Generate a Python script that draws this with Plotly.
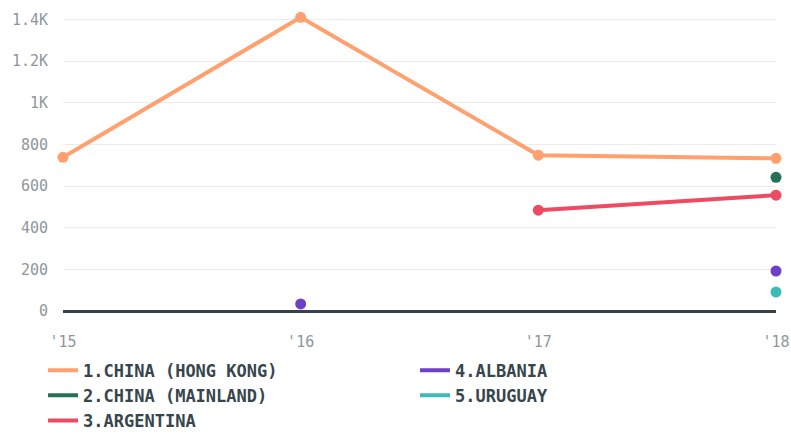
import plotly.graph_objects as go

years = [2015, 2016, 2017, 2018]
tick_labels = ["'15", "'16", "'17", "'18"]

hong_kong = [738, 1410, 748, 733]
mainland = [None, None, None, 642]
argentina = [None, None, 484, 556]
albania = [None, 34, None, 192]
uruguay = [None, None, None, 91]

series = [
    ("1.CHINA (HONG KONG)", hong_kong, "#ffa06e"),
    ("4.ALBANIA", albania, "#6e3fc8"),
    ("2.CHINA (MAINLAND)", mainland, "#276f56"),
    ("5.URUGUAY", uruguay, "#3dbbb9"),
    ("3.ARGENTINA", argentina, "#ee4a62"),
]

fig = go.Figure()
for name, vals, color in series:
    fig.add_trace(go.Scatter(
        x=years, y=vals, name=name, mode="lines+markers",
        line=dict(color=color, width=4),
        marker=dict(color=color, size=11),
        cliponaxis=False, showlegend=False, legendgroup=name,
    ))
# legend entries (line only)
for name, vals, color in series:
    fig.add_trace(go.Scatter(
        x=[None], y=[None], name=name, mode="lines",
        line=dict(color=color, width=4), legendgroup=name,
    ))

mono = "DejaVu Sans Mono"
fig.update_layout(
    width=791, height=435,
    margin=dict(l=63, r=15, t=9, b=124, autoexpand=False),
    paper_bgcolor="white", plot_bgcolor="white",
    showlegend=True,
    legend=dict(
        orientation="h", x=-0.028, y=-0.138, xanchor="left", yanchor="top",
        entrywidth=327, entrywidthmode="pixels",
        font=dict(family=mono, size=17, color="#37454d", weight="bold"),
        traceorder="normal", itemwidth=30,
    ),
    xaxis=dict(
        range=[2015, 2018], tickvals=years, ticktext=tick_labels,
        showgrid=False, zeroline=False, showline=False,
        ticks="", ticklabelstandoff=20,
        tickfont=dict(family=mono, size=15, color="#8e979c"),
    ),
    yaxis=dict(
        range=[0, 1450], tickvals=[0, 200, 400, 600, 800, 1000, 1200, 1400],
        ticktext=["0", "200", "400", "600", "800", "1K", "1.2K", "1.4K"],
        showgrid=True, gridcolor="#ececec", gridwidth=1,
        zeroline=True, zerolinecolor="#34434b", zerolinewidth=3,
        ticks="", ticklabelstandoff=14,
        tickfont=dict(family=mono, size=15, color="#8e979c"),
    ),
)

fig.write_html("out.html", config={"displayModeBar": False},
               post_script="document.body.style.margin='0';")
